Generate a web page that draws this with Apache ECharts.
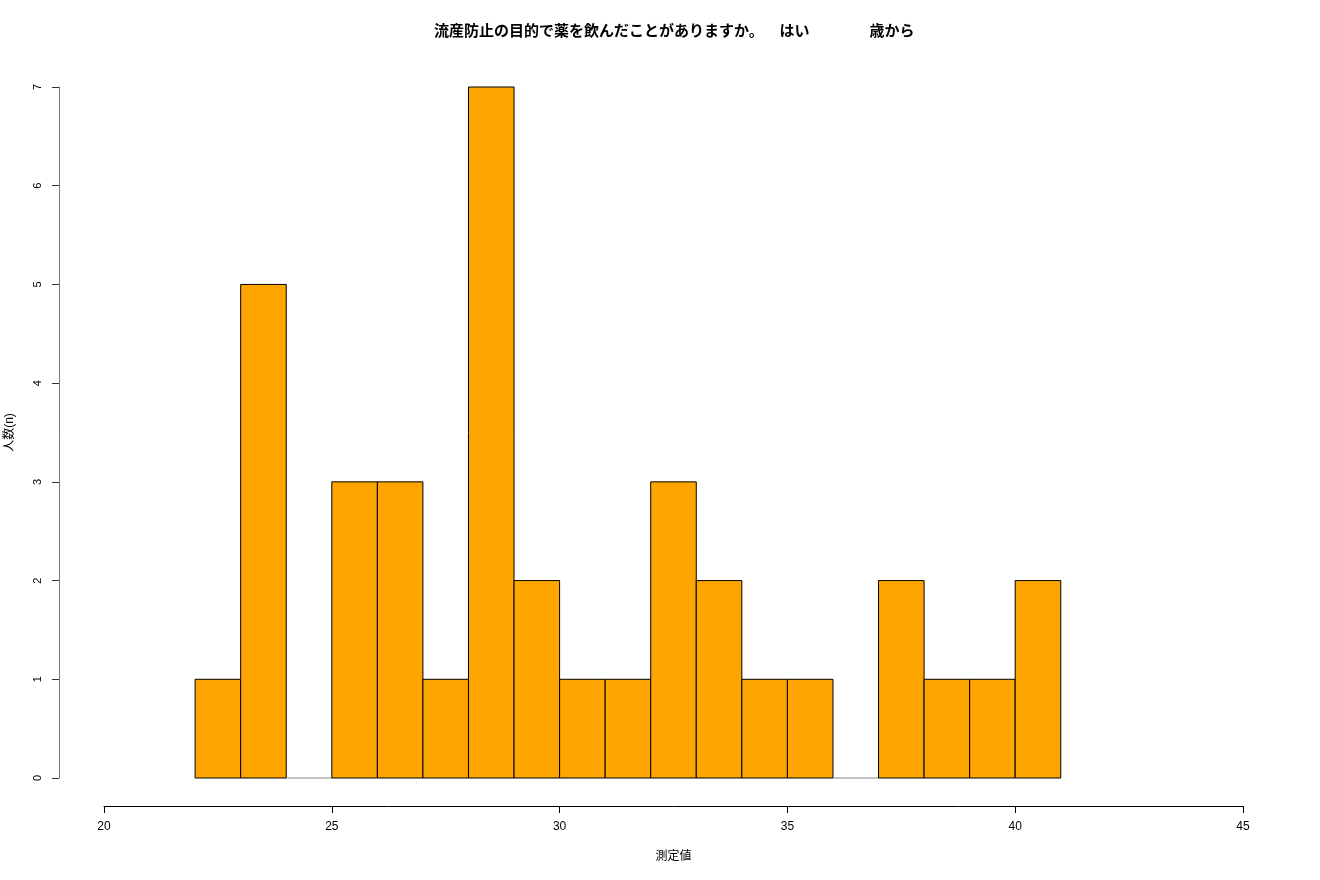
<!DOCTYPE html>
<html>
<head>
<meta charset="utf-8">
<script src="https://cdn.jsdelivr.net/npm/echarts@6/dist/echarts.min.js"></script>
<style>
  html, body { margin: 0; padding: 0; background: #fff; }
  #hist { width: 1320px; height: 880px; }
</style>
</head>
<body>
<div id="hist"></div>
<script>
// histogram bins (width 1) and counts
var binStarts = [22, 23, 24, 25, 26, 27, 28, 29, 30, 31, 32, 33, 34, 35, 36, 37, 38, 39, 40];
var counts    = [1, 5, 0, 3, 3, 1, 7, 2, 1, 1, 3, 2, 1, 1, 0, 2, 1, 1, 2];
var binWidth = 1;

var titleText = '流産防止の目的で薬を飲んだことがありますか。　  はい　　　　歳から';
var xName = '測定値';
var yName = '人数(n)';

var font = '"Liberation Sans", "Noto Sans CJK JP", sans-serif';

var data = [];
for (var i = 0; i < binStarts.length; i++) {
    data.push([binStarts[i], binStarts[i] + binWidth, counts[i]]);
}

var myChart = echarts.init(document.getElementById('hist'));

option = {
    animation: false,
    backgroundColor: '#fff',
    title: {
        text: titleText,
        left: 429,
        top: 19,
        textStyle: {
            fontFamily: font,
            fontSize: 15,
            fontWeight: 'bold',
            color: '#000'
        }
    },
    grid: {
        left: 104,
        right: 77,
        top: 87,
        bottom: 102,
        outerBoundsMode: 'none'
    },
    xAxis: {
        type: 'value',
        min: 20,
        max: 45,
        interval: 5,
        offset: 28,
        name: xName,
        nameLocation: 'middle',
        nameGap: 45,
        nameTextStyle: { fontFamily: font, fontSize: 12, color: '#000' },
        axisLine: { show: true, onZero: false, lineStyle: { color: '#000', width: 1 } },
        axisTick: { show: true, length: 7, lineStyle: { color: '#000' } },
        axisLabel: { fontFamily: font, fontSize: 12, color: '#000', margin: 15 },
        splitLine: { show: false }
    },
    yAxis: {
        type: 'value',
        min: 0,
        max: 7,
        interval: 1,
        offset: 45,
        name: yName,
        nameLocation: 'middle',
        nameGap: 43,
        nameRotate: 90,
        nameTextStyle: { fontFamily: font, fontSize: 12, color: '#000' },
        axisLine: { show: true, onZero: false, lineStyle: { color: '#777', width: 1 } },
        axisTick: { show: true, length: 7, lineStyle: { color: '#333' } },
        axisLabel: { fontFamily: font, fontSize: 11, color: '#000', margin: 16, rotate: 90 },
        splitLine: { show: false }
    },
    series: [{
        type: 'custom',
        data: data,
        renderItem: function (params, api) {
            var p0 = api.coord([api.value(0), 0]);
            var p1 = api.coord([api.value(1), api.value(2)]);
            var h = p0[1] - p1[1];
            if (h <= 0) {
                return {
                    type: 'line',
                    shape: { x1: p0[0], y1: p0[1], x2: p1[0], y2: p0[1] },
                    style: { stroke: '#888', lineWidth: 1 }
                };
            }
            return {
                type: 'rect',
                shape: { x: p0[0], y: p1[1], width: p1[0] - p0[0], height: h },
                style: { fill: '#FFA500', stroke: '#000', lineWidth: 1 }
            };
        }
    }]
};

myChart.setOption(option);
</script>
</body>
</html>
